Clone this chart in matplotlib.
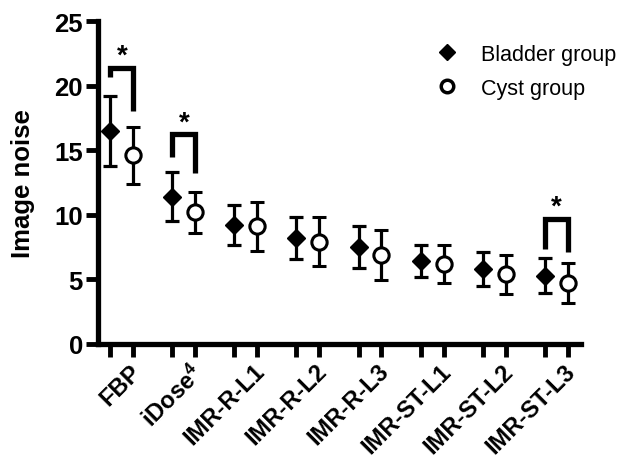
import numpy as np
import matplotlib
matplotlib.use("Agg")
import matplotlib.pyplot as plt
import matplotlib.transforms as mtransforms
from matplotlib.lines import Line2D

plt.rcParams['font.family'] = ['Liberation Sans', 'DejaVu Sans']
plt.rcParams['mathtext.fontset'] = 'custom'
plt.rcParams['mathtext.bf'] = 'Liberation Sans:bold'

# ── data ──────────────────────────────────────────────────────────────────────
categories = ["FBP", r"iDose$\mathbf{^4}$", "IMR-R-L1", "IMR-R-L2", "IMR-R-L3",
              "IMR-ST-L1", "IMR-ST-L2", "IMR-ST-L3"]
bladder_mean = [16.5, 11.4, 9.2, 8.2, 7.5, 6.45, 5.8, 5.3]
bladder_sd   = [2.7, 1.9, 1.55, 1.6, 1.6, 1.25, 1.3, 1.35]
cyst_mean    = [14.6, 10.2, 9.1, 7.9, 6.9, 6.2, 5.4, 4.7]
cyst_sd      = [2.2, 1.6, 1.9, 1.9, 1.95, 1.5, 1.5, 1.55]

# significance brackets: group index, top, left-leg bottom, right-leg bottom
sig_group = [0, 1, 7]
sig_top   = [21.4, 16.25, 9.7]
sig_left  = [20.7, 14.5, 7.35]
sig_right = [18.0, 13.2, 7.1]

# ── plot ──────────────────────────────────────────────────────────────────────
fig = plt.figure(figsize=(6.22, 4.6), dpi=100)
ax = fig.add_axes([0.158, 0.25, 0.776, 0.702])

off = 0.185
x = np.arange(len(categories))
xb, xc = x - off, x + off

ax.errorbar(xb, bladder_mean, yerr=bladder_sd, fmt="D", color="black", ms=9,
            mfc="black", mec="black", ecolor="black", elinewidth=2.3, capsize=4.8,
            capthick=2.3, zorder=3)
ax.errorbar(xc, cyst_mean, yerr=cyst_sd, fmt="o", color="black", ms=11,
            mfc="white", mec="black", mew=2.2, ecolor="black", elinewidth=2.3,
            capsize=4.8, capthick=2.3, zorder=3)

for g, top, lb, rb in zip(sig_group, sig_top, sig_left, sig_right):
    ax.plot([xb[g], xb[g], xc[g], xc[g]], [lb, top, top, rb], color="black",
            lw=3.8, solid_joinstyle="miter", solid_capstyle="butt")
    ax.text(x[g], top - 0.1, "*", ha="center", va="bottom", fontsize=20,
            fontweight="bold")

ax.set_xlim(-0.38, 7.4)
ax.set_ylim(0, 25)
ax.set_yticks([0, 5, 10, 15, 20, 25])
ax.set_ylabel("Image noise", fontsize=18.5, fontweight="bold", labelpad=14)

ax.set_xticks(np.concatenate([xb, xc]))
ax.set_xticklabels([])
ax.set_xticks(x, minor=True)
ax.set_xticklabels(categories, minor=True, rotation=45, ha="right",
                   rotation_mode="anchor", fontsize=17, fontweight="bold")
ax.tick_params(axis="x", which="minor", length=0, pad=11)
ax.tick_params(axis="x", which="major", length=9, width=3.5)
ax.tick_params(axis="y", length=9, width=3.5, labelsize=18.5, pad=2)
for lab in ax.get_yticklabels():
    lab.set_fontweight("bold")
shift = mtransforms.ScaledTranslation(7 / 100, 0, fig.dpi_scale_trans)
for lab in ax.get_xticklabels(minor=True):
    lab.set_transform(lab.get_transform() + shift)

for s in ["top", "right"]:
    ax.spines[s].set_visible(False)
for s in ["left", "bottom"]:
    ax.spines[s].set_linewidth(3.8)

handles = [
    Line2D([], [], ls="none", marker="D", ms=8, mfc="black", mec="black"),
    Line2D([], [], ls="none", marker="o", ms=9, mfc="white", mec="black", mew=2.5),
]
ax.legend(handles, ["Bladder group", "Cyst group"], loc="upper left",
          bbox_to_anchor=(0.655, 0.99), frameon=False, fontsize=15.5,
          handletextpad=1.0, labelspacing=0.6, handlelength=1.2)

fig.savefig("out.png", dpi=100)
